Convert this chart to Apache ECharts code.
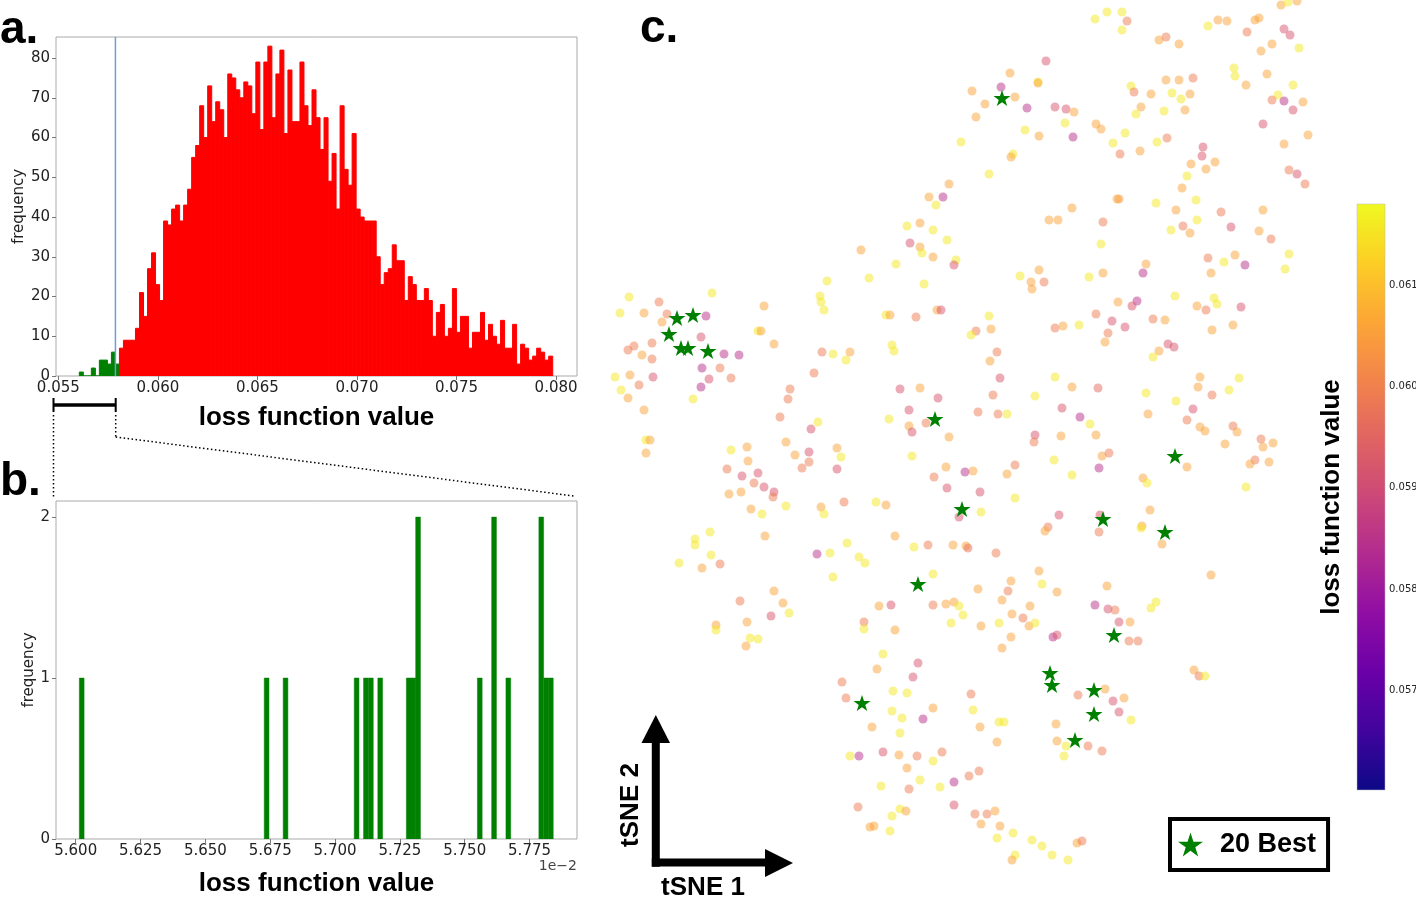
<!DOCTYPE html>
<html><head><meta charset="utf-8">
<script src="https://cdn.jsdelivr.net/npm/echarts@6/dist/echarts.min.js"></script>
<style>html,body{margin:0;padding:0;background:#fff}#c{width:1416px;height:897px}</style>
</head><body><div id="c"></div><script>
// ---------- DATA ----------
// Panel a: histogram of loss function values (118 bins)
const histBinStart = 0.056055;
const histBinWidth = 0.0002015;
const histCounts = [1,0,0,2,0,4,4,3,6,3,7,9,9,9,12,21,15,27,31,23,19,39,38,42,43,39,43,47,55,58,
  68,60,73,64,69,67,60,76,75,72,70,74,73,66,79,62,79,83,65,76,82,61,77,64,64,79,68,63,72,65,
  57,65,49,56,42,68,52,48,61,42,40,39,39,39,30,23,26,27,33,29,29,19,25,23,19,19,22,19,10,16,
  18,10,12,22,11,15,15,7,11,11,16,9,13,10,8,14,7,7,13,3,8,7,4,5,7,6,4,5];
const bestThreshold = 0.057869;   // 20 best runs lie below this loss
// Panel b: zoomed histogram of the 20 best (non-empty bins only)
const zoomBinWidth = 0.00001827;
const zoomBinLeft = [0.056014,0.056727,0.056800,0.057074,0.057110,0.057129,0.057165,0.057275,
  0.057293,0.057311,0.057549,0.057604,0.057659,0.057786,0.057805,0.057823];
const zoomCounts = [1,1,1,1,1,1,1,1,1,2,1,2,1,2,1,1];
// Tick labels
const aXTicks = [0.055,0.060,0.065,0.070,0.075,0.080];
const aYTicks = [0,10,20,30,40,50,60,70,80];
const bXTicks = [0.05600,0.05625,0.05650,0.05675,0.05700,0.05725,0.05750,0.05775];
const bYTicks = [0,1,2];
const cbarTicks = [0.057,0.058,0.059,0.060,0.061];
const cbarRange = [0.05602, 0.0618];
// Panel c: tSNE embedding [tSNE1, tSNE2, loss]
const cloud = [
[34.9,69.6,0.0606],[32.9,68.3,0.0606],[34.3,68.3,0.0585],[33.6,67.5,0.0616],[30.7,65.4,0.0616],[32.0,65.7,0.0606],
[33.3,65.0,0.0616],[34.7,64.0,0.0616],[31.0,63.7,0.0592],[32.0,63.3,0.0606],[32.2,62.7,0.0616],[33.3,62.3,0.0606],
[35.6,62.0,0.0616],[35.4,61.5,0.0592],[26.1,63.0,0.0606],[29.6,61.6,0.0616],[26.9,60.2,0.0616],[22.7,59.9,0.0616],
[32.4,59.6,0.0616],[22.0,58.4,0.0616],[22.1,57.8,0.0616],[22.4,57.0,0.0616],[28.6,56.5,0.0616],[29.0,56.5,0.0606],
[31.6,56.3,0.0599],[33.7,57.0,0.0606],[34.1,57.0,0.0592],[16.4,57.4,0.0606],[11.2,58.7,0.0616],[2.9,58.3,0.0616],
[2.0,56.7,0.0616],[4.4,56.7,0.0606],[5.9,57.8,0.0599],[6.7,56.6,0.0599],[6.2,55.8,0.0606],[10.6,56.4,0.0585],
[10.1,54.3,0.0592],[5.2,53.7,0.0599],[3.4,53.4,0.0599],[2.8,53.0,0.0599],[4.2,52.5,0.0606],[5.2,52.1,0.0599],
[12.4,52.6,0.0585],[13.9,52.5,0.0585],[10.2,51.2,0.0585],[12.0,51.2,0.0599],[10.9,50.1,0.0592],[13.1,50.2,0.0599],
[10.1,49.3,0.0585],[5.3,50.3,0.0592],[3.0,50.5,0.0606],[1.5,50.3,0.0616],[3.9,49.5,0.0599],[2.1,49.0,0.0616],
[2.8,48.2,0.0606],[9.3,48.1,0.0616],[4.4,47.0,0.0606],[15.8,54.9,0.0616],[16.1,54.9,0.0606],[17.4,53.6,0.0606],
[22.2,52.8,0.0599],[23.3,52.6,0.0616],[25.0,52.8,0.0606],[24.6,52.0,0.0616],[29.2,53.5,0.0616],[29.4,52.9,0.0616],
[21.4,50.7,0.0599],[19.0,49.1,0.0599],[18.8,48.1,0.0599],[18.0,46.3,0.0599],[21.8,45.8,0.0616],[21.1,45.1,0.0592],
[30.0,49.1,0.0592],[32.0,49.2,0.0606],[33.8,48.2,0.0592],[30.9,47.0,0.0592],[28.9,46.1,0.0616],[32.6,45.7,0.0599],
[30.9,45.4,0.0606],[31.2,44.8,0.0592],[34.9,44.3,0.0606],
[49.5,86.1,0.0616],[50.7,86.8,0.0616],[52.2,86.8,0.0616],[52.7,85.9,0.0599],[52.2,85.0,0.0616],[44.6,81.9,0.0592],
[41.0,80.7,0.0606],[43.8,79.8,0.0616],[43.8,79.7,0.0606],[40.1,79.3,0.0585],[41.5,78.3,0.0606],[37.2,78.9,0.0606],
[38.5,77.6,0.0606],[37.6,76.3,0.0606],[42.7,77.2,0.0585],[45.5,77.3,0.0592],[46.6,77.1,0.0592],[47.4,76.8,0.0606],
[46.5,75.7,0.0616],[42.5,75.0,0.0616],[43.9,74.4,0.0606],[47.3,74.3,0.0585],[36.1,73.8,0.0616],[41.3,72.6,0.0616],
[41.1,72.3,0.0606],[38.9,70.6,0.0616],[49.6,75.6,0.0606],[50.1,75.1,0.0606],[52.5,74.7,0.0616],[51.3,73.7,0.0616],
[52.0,72.6,0.0599],[54.0,72.9,0.0606],[55.7,73.8,0.0616],[56.7,74.2,0.0599],[53.1,79.4,0.0616],[53.4,78.8,0.0599],
[55.1,78.6,0.0606],[54.1,77.3,0.0606],[53.6,76.6,0.0616],[56.4,76.9,0.0616],[56.6,80.0,0.0606],[57.9,80.0,0.0606],
[59.3,80.2,0.0599],[57.2,78.7,0.0616],[58.1,78.1,0.0616],[59.0,78.6,0.0606],[58.5,77.0,0.0606],[55.9,84.0,0.0606],
[56.6,84.3,0.0599],[57.9,83.6,0.0606],[60.8,85.4,0.0616],[61.8,86.0,0.0606],[62.7,85.9,0.0606],[64.7,84.8,0.0599],
[65.5,86.0,0.0606],[65.9,86.2,0.0606],[68.1,87.5,0.0606],[68.8,87.8,0.0616],[69.7,87.9,0.0606],[68.4,85.1,0.0592],
[69.0,84.5,0.0592],[67.2,83.6,0.0606],[66.1,82.9,0.0606],[69.9,83.2,0.0616],[63.4,81.2,0.0616],[63.5,80.4,0.0616],
[64.6,79.5,0.0606],[66.7,80.6,0.0606],[69.3,79.5,0.0616],[67.8,78.5,0.0616],[67.2,78.0,0.0599],[68.4,77.9,0.0585],
[69.3,77.0,0.0592],[70.3,77.8,0.0606],[66.3,75.6,0.0592],[70.8,74.5,0.0606],[68.4,73.6,0.0606],[68.9,71.0,0.0599],
[69.7,70.6,0.0592],[70.5,69.6,0.0599],[60.3,73.3,0.0592],[60.2,72.4,0.0592],[59.1,71.6,0.0606],[61.5,71.8,0.0606],
[60.6,71.1,0.0606],[58.7,70.4,0.0616],[58.2,69.2,0.0606],[51.9,68.1,0.0604],[51.7,68.1,0.0606],[59.6,68.0,0.0616],
[55.6,67.7,0.0616],[57.6,67.0,0.0606],[47.2,67.2,0.0606],[44.9,66.0,0.0606],[45.8,66.0,0.0606],[50.3,65.8,0.0599],
[59.7,66.0,0.0616],[57.1,65.0,0.0616],[58.3,65.4,0.0599],[59.0,64.7,0.0606],[62.1,66.8,0.0599],[63.1,65.3,0.0592],
[66.3,67.0,0.0606],[65.9,64.9,0.0606],[67.1,64.1,0.0599],[50.1,63.6,0.0616],[42.0,60.4,0.0616],[43.9,61.0,0.0606],
[43.1,59.8,0.0606],[43.2,59.1,0.0606],[44.4,59.8,0.0599],[48.9,60.3,0.0616],[50.3,60.7,0.0606],[54.6,61.6,0.0606],
[54.3,60.7,0.0585],[60.8,62.2,0.0599],[62.4,61.8,0.0616],[63.5,62.5,0.0606],[61.1,60.7,0.0606],[64.5,61.5,0.0585],
[68.9,62.6,0.0616],[68.5,61.1,0.0616],[57.5,58.4,0.0616],[61.4,58.2,0.0616],[61.7,57.6,0.0616],[59.7,57.4,0.0606],
[60.6,57.0,0.0599],[64.1,57.3,0.0592],[51.8,57.8,0.0606],[53.7,57.9,0.0585],[53.2,57.4,0.0592],[49.6,56.6,0.0599],
[51.2,55.9,0.0592],[52.5,55.3,0.0592],[55.3,56.1,0.0599],[56.5,56.0,0.0606],[38.9,56.4,0.0616],[37.6,54.9,0.0599],
[37.1,54.5,0.0616],[39.1,55.1,0.0606],[45.5,55.2,0.0599],[46.3,55.4,0.0606],[47.9,55.5,0.0616],[50.8,54.7,0.0599],
[50.5,53.8,0.0606],[63.3,55.5,0.0606],[61.2,55.0,0.0606],[56.8,53.6,0.0592],[57.4,53.3,0.0592],[55.9,52.9,0.0606],
[55.3,52.3,0.0616],[39.7,52.8,0.0599],[39.0,51.9,0.0606],[40.0,50.2,0.0592],[39.3,48.5,0.0599],[37.8,46.8,0.0599],
[39.8,46.6,0.0599],[40.7,46.6,0.0616],[45.5,50.3,0.0616],[47.2,49.3,0.0606],[49.8,49.2,0.0596],[43.5,48.4,0.0616],
[46.2,47.2,0.0592],[48.0,46.3,0.0585],[49.0,45.6,0.0616],[43.5,44.5,0.0592],[46.1,44.4,0.0606],[49.6,44.5,0.0606],
[54.6,48.7,0.0616],[54.8,46.6,0.0606],[57.6,47.9,0.0616],[60.0,50.3,0.0606],[59.8,49.3,0.0606],[61.2,48.5,0.0599],
[62.9,49.0,0.0616],[63.9,50.2,0.0616],[59.3,47.1,0.0592],[58.7,46.0,0.0599],[60.0,45.3,0.0606],[60.5,44.9,0.0606],
[63.3,45.4,0.0599],[63.7,44.8,0.0606],[66.1,44.1,0.0599],
[4.6,44.0,0.0616],[5.0,44.0,0.0606],[4.6,42.7,0.0606],[13.1,43.0,0.0616],[14.7,43.3,0.0606],[14.8,41.9,0.0606],
[12.7,41.1,0.0599],[14.2,40.4,0.0592],[15.8,40.7,0.0592],[15.4,39.7,0.0599],[16.4,39.3,0.0592],[17.4,38.8,0.0592],
[17.3,38.3,0.0599],[12.9,38.6,0.0606],[14.1,38.8,0.0606],[15.1,37.1,0.0606],[16.2,36.6,0.0616],[18.6,43.8,0.0606],
[19.5,42.5,0.0606],[20.9,42.8,0.0592],[20.9,41.8,0.0599],[20.2,41.2,0.0599],[23.7,43.2,0.0606],[24.1,42.3,0.0616],
[23.7,41.1,0.0592],[18.6,37.4,0.0616],[22.1,37.3,0.0606],[22.4,36.6,0.0616],[24.4,37.8,0.0599],[27.6,37.8,0.0616],
[28.6,37.5,0.0606],[31.2,42.4,0.0616],[34.6,41.3,0.0606],[33.4,40.3,0.0599],[34.7,39.2,0.0592],[35.9,36.3,0.0592],
[9.5,34.1,0.0616],[9.5,33.5,0.0616],[11.0,34.8,0.0616],[11.1,32.5,0.0616],[7.9,31.7,0.0616],[10.2,31.2,0.0606],
[12.0,31.6,0.0599],[16.5,34.4,0.0606],[21.7,32.6,0.0585],[23.0,32.7,0.0616],[24.7,33.7,0.0616],[25.9,32.3,0.0616],
[26.5,31.7,0.0616],[23.3,30.3,0.0616],[29.5,34.4,0.0606],[31.4,33.3,0.0616],[32.8,33.5,0.0599],[35.3,33.5,0.0606],
[33.3,30.6,0.0616],[17.4,28.9,0.0606],[14.0,27.9,0.0599],[18.3,27.7,0.0606],[18.9,26.7,0.0616],[17.1,26.4,0.0592],
[14.7,25.8,0.0606],[11.6,25.5,0.0606],[11.6,25.0,0.0616],[15.0,24.2,0.0616],[15.8,24.1,0.0616],[14.6,23.4,0.0606],
[27.9,27.4,0.0606],[29.1,27.5,0.0592],[26.4,25.8,0.0599],[26.4,25.1,0.0616],[29.5,25.0,0.0606],[33.3,27.5,0.0599],
[34.6,27.6,0.0606],[35.4,27.8,0.0606],[35.1,25.7,0.0616],[35.9,27.4,0.0616],[28.3,22.6,0.0616],[27.7,21.1,0.0606],
[31.8,21.7,0.0592],[31.3,20.3,0.0592],[24.2,19.8,0.0599],[24.6,18.2,0.0599],[29.3,18.9,0.0616],[30.7,18.7,0.0616],
[33.3,17.2,0.0606],[29.2,16.9,0.0616],[30.2,16.2,0.0616],[32.3,16.1,0.0585],[27.2,15.3,0.0606],[30.0,14.7,0.0616],
[25.0,12.4,0.0616],[25.9,12.4,0.0585],[28.3,12.8,0.0592],[29.9,12.5,0.0606],[31.7,12.4,0.0599],[34.2,12.8,0.0599],
[33.3,11.9,0.0616],[30.7,11.2,0.0606],[28.1,9.4,0.0616],[30.9,9.1,0.0599],[32.0,10.0,0.0616],[34.0,9.3,0.0616],
[35.4,9.8,0.0585],[35.4,7.5,0.0592],[25.8,7.3,0.0599],[30.0,7.1,0.0616],[30.6,6.9,0.0606],[29.2,6.4,0.0616],
[27.0,5.3,0.0606],[27.4,5.4,0.0606],[29.0,4.9,0.0616],
[43.4,43.8,0.0599],[37.3,40.9,0.0606],[36.5,40.8,0.0585],[38.0,38.8,0.0592],[40.7,40.6,0.0606],[41.5,41.5,0.0599],
[41.5,38.2,0.0616],[38.1,36.8,0.0616],[45.4,42.0,0.0616],[47.2,40.5,0.0616],[50.2,42.4,0.0606],[50.9,42.7,0.0599],
[49.9,41.2,0.0585],[45.9,36.5,0.0592],[50.0,36.5,0.0592],[49.9,34.8,0.0599],[44.8,35.3,0.0599],[44.5,34.9,0.0606],
[36.6,33.4,0.0606],[36.8,33.2,0.0597],[39.6,32.7,0.0599],[54.3,40.2,0.0606],[54.7,39.7,0.0616],[58.7,41.3,0.0606],
[55.0,37.0,0.0606],[54.2,35.4,0.0606],[54.1,35.2,0.0616],[56.2,33.6,0.0606],[62.5,43.6,0.0606],[66.3,43.3,0.0606],
[67.3,43.7,0.0606],[65.5,42.0,0.0599],[65.0,41.6,0.0606],[66.9,41.8,0.0606],[64.6,39.3,0.0616],[61.1,30.5,0.0606],
[43.9,30.9,0.0606],[44.2,29.6,0.0616],[41.1,29.9,0.0606],[40.8,28.9,0.0599],[37.8,29.1,0.0606],[45.7,28.8,0.0606],
[40.2,28.0,0.0606],[43.0,27.4,0.0606],[36.3,26.5,0.0616],[38.1,25.4,0.0606],[39.9,25.7,0.0616],[41.2,26.6,0.0606],
[42.3,26.2,0.0599],[42.9,25.4,0.0606],[43.5,25.7,0.0616],[41.1,24.3,0.0606],[40.2,23.2,0.0606],[45.3,24.3,0.0585],
[45.7,24.5,0.0592],[50.7,29.4,0.0606],[49.5,27.5,0.0585],[50.8,27.1,0.0592],[51.5,27.0,0.0599],[51.9,25.8,0.0592],
[53.0,25.8,0.0606],[52.9,23.9,0.0599],[53.8,23.9,0.0599],[55.1,27.2,0.0616],[55.6,27.8,0.0616],[59.4,21.0,0.0606],
[59.9,20.4,0.0599],[60.5,20.4,0.0616],[50.5,19.1,0.0606],[47.8,18.5,0.0599],[51.3,17.9,0.0592],[52.4,18.2,0.0606],
[51.9,16.8,0.0592],[53.1,16.0,0.0616],[45.6,15.6,0.0606],[45.7,13.9,0.0606],[46.6,13.4,0.0616],[48.8,13.4,0.0599],
[50.2,12.9,0.0599],[46.4,12.4,0.0616],[37.1,18.6,0.0599],[37.3,17.0,0.0616],[38.0,15.3,0.0606],[39.9,15.8,0.0616],
[40.4,15.8,0.0616],[39.7,13.8,0.0606],[37.9,10.9,0.0599],[36.9,10.4,0.0599],[37.5,6.6,0.0599],[38.7,6.6,0.0599],
[39.5,6.9,0.0606],[38.1,5.6,0.0606],[40.0,5.4,0.0606],[39.7,4.2,0.0616],[41.3,4.7,0.0616],[43.2,4.0,0.0616],
[44.2,3.4,0.0616],[45.2,2.5,0.0616],[41.5,2.5,0.0616],[41.2,2.0,0.0606],[46.8,2.0,0.0616],[47.7,3.7,0.0606],
[48.2,3.9,0.0599]
];
const best20 = [[40.2,78.2],[7.7,56.2],[9.3,56.5],[6.9,54.6],[8.1,53.2],[8.8,53.2],[10.8,52.9],[33.5,46.1],
  [57.5,42.4],[36.2,37.1],[50.3,36.1],[56.5,34.8],[31.8,29.6],[51.4,24.5],[45.0,20.7],[45.2,19.5],
  [49.4,19.0],[49.4,16.6],[47.5,14.0],[26.2,17.7]];

// ---------- BUILD ----------
const plasma = ['#0d0887','#41049d','#6a00a8','#8f0da4','#b12a90','#cc4778','#e16462','#f2844b','#fca636','#fcce25','#f0f921'];
const histGreen = [], histRed = [];
histCounts.forEach((c, i) => {
  const x0 = histBinStart + i * histBinWidth, x1 = x0 + histBinWidth;
  (x0 < bestThreshold - 1e-7 ? histGreen : histRed).push([x0, x1, c]);
});
const zoomBars = zoomBinLeft.map((x, i) => [x, x + zoomBinWidth, zoomCounts[i]]);
const starPath = 'path://M0,-10L2.245,-3.09L9.511,-3.09L3.633,1.18L5.878,8.09L0,3.82L-5.878,8.09L-3.633,1.18L-9.511,-3.09L-2.245,-3.09Z';

function barRender(color, lw) {
  return function (params, api) {
    const a = api.coord([api.value(0), 0]);
    const b = api.coord([api.value(1), api.value(2)]);
    return { type: 'rect', shape: { x: a[0], y: b[1], width: b[0] - a[0], height: a[1] - b[1] },
      style: { fill: color, stroke: color, lineWidth: lw } };
  };
}
const tickFont = { fontFamily: 'DejaVu Sans', fontSize: 15, color: '#222' };
const titleFont = { fontFamily: 'Liberation Sans', fontWeight: 'bold', fontSize: 26, color: '#000' };
const gridBase = { show: true, borderColor: '#aaa', borderWidth: 1, backgroundColor: 'transparent', containLabel: false, outerBoundsMode: 'none' };

const option = {
  animation: false,
  backgroundColor: '#fff',
  grid: [
    Object.assign({ left: 56, top: 37, width: 521, height: 339 }, gridBase),
    Object.assign({ left: 56, top: 501, width: 521, height: 338 }, gridBase),
    { left: 600, top: 0, width: 720, height: 880, show: false, containLabel: false, outerBoundsMode: 'none' },
    { left: 1357, top: 204, width: 28, height: 586, show: false, containLabel: false, outerBoundsMode: 'none' }
  ],
  xAxis: [
    { type: 'value', gridIndex: 0, min: 0.054884, max: 0.081052, splitLine: { show: false },
      axisLine: { show: false },
      axisTick: { show: true, length: 4, lineStyle: { color: '#777' }, customValues: aXTicks },
      axisLabel: Object.assign({ customValues: aXTicks, margin: 5, formatter: v => v.toFixed(3) }, tickFont),
      name: 'loss function value', nameLocation: 'middle', nameGap: 29, nameTextStyle: titleFont },
    { type: 'value', gridIndex: 1, min: 0.055924, max: 0.057933, splitLine: { show: false },
      axisLine: { show: false },
      axisTick: { show: true, length: 4, lineStyle: { color: '#777' }, customValues: bXTicks },
      axisLabel: Object.assign({ customValues: bXTicks, margin: 5, formatter: v => (v * 100).toFixed(3) }, tickFont),
      name: 'loss function value', nameLocation: 'middle', nameGap: 32, nameTextStyle: titleFont },
    { type: 'value', gridIndex: 2, min: 0, max: 72, show: false },
    { type: 'value', gridIndex: 3, min: 0, max: 1, show: false }
  ],
  yAxis: [
    { type: 'value', gridIndex: 0, min: 0, max: 85.3, splitLine: { show: false }, axisLine: { show: false },
      axisTick: { show: true, length: 4, lineStyle: { color: '#777' }, customValues: aYTicks },
      axisLabel: Object.assign({ customValues: aYTicks, margin: 6 }, tickFont),
      name: 'frequency', nameLocation: 'middle', nameGap: 29,
      nameTextStyle: { fontFamily: 'DejaVu Sans', fontSize: 15, color: '#222' } },
    { type: 'value', gridIndex: 1, min: 0, max: 2.1, splitLine: { show: false }, axisLine: { show: false },
      axisTick: { show: true, length: 4, lineStyle: { color: '#777' }, customValues: bYTicks },
      axisLabel: Object.assign({ customValues: bYTicks, margin: 6 }, tickFont),
      name: 'frequency', nameLocation: 'middle', nameGap: 18,
      nameTextStyle: { fontFamily: 'DejaVu Sans', fontSize: 15, color: '#222' } },
    { type: 'value', gridIndex: 2, min: 0, max: 88, show: false },
    { type: 'value', gridIndex: 3, min: cbarRange[0], max: cbarRange[1], position: 'right',
      splitLine: { show: false }, axisLine: { show: false },
      axisTick: { show: true, length: 3.5, lineStyle: { color: '#333' }, customValues: cbarTicks },
      axisLabel: { customValues: cbarTicks, margin: 4, fontFamily: 'DejaVu Sans', fontSize: 10, color: '#222',
        formatter: v => v.toFixed(3) } }
  ],
  visualMap: [{ type: 'continuous', show: false, seriesIndex: 4, dimension: 2,
    min: cbarRange[0], max: cbarRange[1], inRange: { color: plasma } }],
  legend: {
    data: [{ name: '20 Best', icon: starPath }],
    left: 1170, top: 819, orient: 'horizontal',
    padding: [12, 12, 12, 8], itemWidth: 25, itemHeight: 25, symbolKeepAspect: true,
    borderColor: '#000', borderWidth: 4, borderRadius: 0, backgroundColor: '#fff',
    textStyle: { fontFamily: 'Liberation Sans', fontWeight: 'bold', fontSize: 27, color: '#000', padding: [0, 0, 0, 12] },
    selectedMode: false
  },
  series: [
    { type: 'custom', name: 'best bins', xAxisIndex: 0, yAxisIndex: 0, renderItem: barRender('#008000', 1),
      encode: { x: [0, 1], y: 2 }, data: histGreen, clip: true },
    { type: 'custom', name: 'other bins', xAxisIndex: 0, yAxisIndex: 0, renderItem: barRender('#ff0000', 1),
      encode: { x: [0, 1], y: 2 }, data: histRed, clip: true },
    { type: 'line', name: 'threshold', xAxisIndex: 0, yAxisIndex: 0, symbol: 'none',
      lineStyle: { color: '#66a3d9', width: 1.5 }, data: [[bestThreshold, 0], [bestThreshold, 85.3]], z: 5 },
    { type: 'custom', name: 'zoom bins', xAxisIndex: 1, yAxisIndex: 1, renderItem: barRender('#008000', 0.5),
      encode: { x: [0, 1], y: 2 }, data: zoomBars, clip: true },
    { type: 'scatter', name: 'runs', xAxisIndex: 2, yAxisIndex: 2, symbolSize: 9,
      itemStyle: { opacity: 0.5 }, data: cloud, z: 2 },
    { type: 'scatter', name: '20 Best', xAxisIndex: 2, yAxisIndex: 2, symbol: starPath, symbolSize: 17,
      symbolKeepAspect: true, itemStyle: { color: '#008000', opacity: 1 }, data: best20, z: 4 },
    { type: 'custom', name: 'colorbar', xAxisIndex: 3, yAxisIndex: 3, encode: { x: 0, y: [1, 2] },
      data: [[0, cbarRange[0], cbarRange[1]]],
      renderItem: function (params, api) {
        const a = api.coord([0, api.value(1)]);
        const b = api.coord([1, api.value(2)]);
        return { type: 'rect', shape: { x: a[0], y: b[1], width: b[0] - a[0], height: a[1] - b[1] },
          style: { fill: { type: 'linear', x: 0, y: 1, x2: 0, y2: 0,
            colorStops: plasma.map((c, i) => ({ offset: i / (plasma.length - 1), color: c })) },
            stroke: '#bbb', lineWidth: 0.5 } };
      } }
  ],
  graphic: [
    { type: 'text', x: 0, y: 30, style: { text: 'a.', fontFamily: 'Liberation Sans', fontWeight: 'bold', fontSize: 46, fill: '#000', verticalAlign: 'middle', align: 'left' } },
    { type: 'text', x: 0, y: 482, style: { text: 'b.', fontFamily: 'Liberation Sans', fontWeight: 'bold', fontSize: 46, fill: '#000', verticalAlign: 'middle', align: 'left' } },
    { type: 'text', x: 640, y: 29, style: { text: 'c.', fontFamily: 'Liberation Sans', fontWeight: 'bold', fontSize: 46, fill: '#000', verticalAlign: 'middle', align: 'left' } },
    // zoom bracket
    { type: 'line', shape: { x1: 53, y1: 405, x2: 116, y2: 405 }, style: { stroke: '#000', lineWidth: 3.5 } },
    { type: 'line', shape: { x1: 53.5, y1: 398, x2: 53.5, y2: 412 }, style: { stroke: '#000', lineWidth: 2 } },
    { type: 'line', shape: { x1: 115.7, y1: 398, x2: 115.7, y2: 412 }, style: { stroke: '#000', lineWidth: 2 } },
    { type: 'line', shape: { x1: 53.5, y1: 415, x2: 53.5, y2: 497 }, style: { stroke: '#000', lineWidth: 1.5, lineDash: [1.5, 2.5] } },
    { type: 'line', shape: { x1: 115.7, y1: 415, x2: 115.7, y2: 437 }, style: { stroke: '#000', lineWidth: 1.5, lineDash: [1.5, 2.5] } },
    { type: 'line', shape: { x1: 115.7, y1: 437, x2: 574, y2: 496 }, style: { stroke: '#000', lineWidth: 1.5, lineDash: [1.5, 2.5] } },
    // 1e-2 offset text
    { type: 'text', x: 577, y: 866, style: { text: '1e\u22122', fontFamily: 'DejaVu Sans', fontSize: 14, fill: '#444', align: 'right', verticalAlign: 'middle' } },
    // tSNE arrows
    { type: 'line', shape: { x1: 655.8, y1: 866.7, x2: 655.8, y2: 740 }, style: { stroke: '#000', lineWidth: 8 } },
    { type: 'polygon', shape: { points: [[641.5, 743], [670, 743], [655.8, 715]] }, style: { fill: '#000' } },
    { type: 'line', shape: { x1: 651.8, y1: 862.5, x2: 768, y2: 862.5 }, style: { stroke: '#000', lineWidth: 8 } },
    { type: 'polygon', shape: { points: [[765, 849], [765, 877], [793, 863]] }, style: { fill: '#000' } },
    { type: 'text', x: 631, y: 805, rotation: Math.PI / 2, style: { text: 'tSNE 2', fontFamily: 'Liberation Sans', fontWeight: 'bold', fontSize: 26, fill: '#000', align: 'center', verticalAlign: 'middle' } },
    { type: 'text', x: 703, y: 888, style: { text: 'tSNE 1', fontFamily: 'Liberation Sans', fontWeight: 'bold', fontSize: 26, fill: '#000', align: 'center', verticalAlign: 'middle' } },
    // colorbar title
    { type: 'text', x: 1332, y: 497, rotation: Math.PI / 2, style: { text: 'loss function value', fontFamily: 'Liberation Sans', fontWeight: 'bold', fontSize: 26, fill: '#000', align: 'center', verticalAlign: 'middle' } }
  ]
};
const chart = echarts.init(document.getElementById('c'), null, { renderer: 'canvas', width: 1416, height: 897 });
chart.setOption(option);
</script></body></html>
